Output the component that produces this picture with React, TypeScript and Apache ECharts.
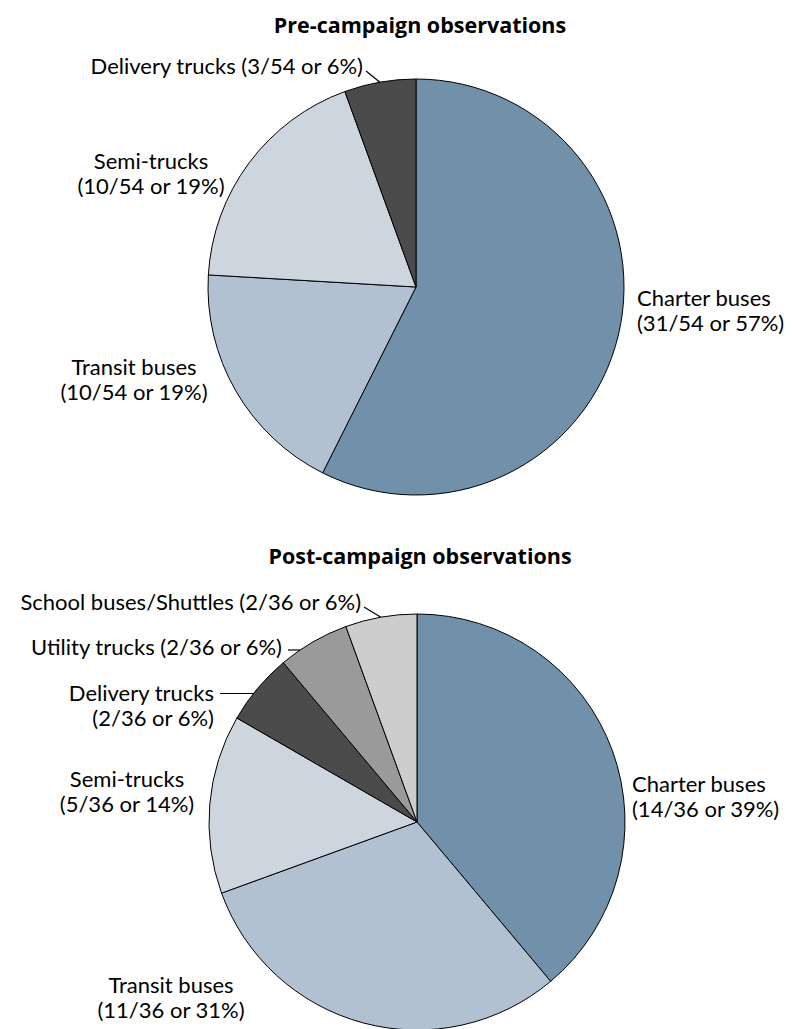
import React, { useEffect, useRef } from "react";
import * as echarts from "echarts";

const preCategories = ["Charter buses", "Transit buses", "Semi-trucks", "Delivery trucks"];
const preValues = [31, 10, 10, 3];
const preTotal = 54;

const postCategories = [
  "Charter buses",
  "Transit buses",
  "Semi-trucks",
  "Delivery trucks",
  "Utility trucks",
  "School buses/Shuttles",
];
const postValues = [14, 11, 5, 2, 2, 2];
const postTotal = 36;

const colorMap: Record<string, string> = {
  "Charter buses": "#7191ab",
  "Transit buses": "#b1c1d1",
  "Semi-trucks": "#cdd6df",
  "Delivery trucks": "#4b4b4b",
  "Utility trucks": "#9a9a9a",
  "School buses/Shuttles": "#cdcdcd",
};

type LP = { x: number; y: number; align: string; two: boolean; leader: "" | "mid" | "flat" };

const preLabelPos: LP[] = [
  { x: 637, y: 310, align: "left", two: true, leader: "" },
  { x: 134, y: 379, align: "center", two: true, leader: "" },
  { x: 151, y: 173, align: "center", two: true, leader: "" },
  { x: 363, y: 65, align: "right", two: false, leader: "mid" },
];
const postLabelPos: LP[] = [
  { x: 632, y: 796, align: "left", two: true, leader: "" },
  { x: 171, y: 997, align: "center", two: true, leader: "" },
  { x: 127, y: 791, align: "center", two: true, leader: "" },
  { x: 214, y: 705, align: "right", two: true, leader: "flat" },
  { x: 282, y: 646, align: "right", two: false, leader: "flat" },
  { x: 361, y: 601, align: "right", two: false, leader: "mid" },
];

const FONT = "Lato, 'Open Sans', sans-serif";
const TITLE_FONT = "'Open Sans', Lato, sans-serif";
const R = 208;
const LINE_H = 25;

function buildData(cats: string[], vals: number[], total: number, pos: LP[]) {
  return cats.map((c, i) => {
    const pct = Math.round((vals[i] / total) * 100);
    const frac = `(${vals[i]}/${total} or ${pct}%)`;
    const text = pos[i].two ? `${c}\n${frac}` : `${c} ${frac}`;
    return {
      name: c,
      value: vals[i],
      itemStyle: { color: colorMap[c] },
      label: { formatter: text, align: pos[i].align as any },
      labelLine: { show: pos[i].leader !== "" },
    };
  });
}

export default function App() {
  const ref = useRef<HTMLDivElement>(null);
  useEffect(() => {
    if (!ref.current) return;
    const chart = echarts.init(ref.current, undefined, { renderer: "svg" });
    const mkSeries = (cats: string[], vals: number[], total: number, center: number[], pos: LP[]) => {
      const sum = vals.reduce((a, b) => a + b, 0);
      const cum: number[] = [];
      let acc = 0;
      vals.forEach((v) => {
        cum.push(acc + v / 2);
        acc += v;
      });
      return {
        type: "pie",
        center,
        radius: R,
        startAngle: 90,
        clockwise: true,
        silent: true,
        data: buildData(cats, vals, total, pos),
        itemStyle: { borderColor: "#000", borderWidth: 1 },
        label: {
          show: true,
          position: "outside",
          color: "#000",
          fontFamily: FONT,
          fontSize: 22,
          lineHeight: LINE_H,
          overflow: "none",
          edgeDistance: 0,
          bleedMargin: 0,
        },
        labelLine: { lineStyle: { color: "#000", width: 1.2 }, length: 10, length2: 10 },
        labelLayout: (p: any) => {
          const lp = pos[p.dataIndex];
          const out: any = { x: lp.x, y: lp.y, align: lp.align, verticalAlign: "middle" };
          if (lp.leader) {
            const ay = lp.two ? lp.y - LINE_H / 2 + 1 : lp.y + 4;
            const ax = lp.x + 3;
            let ex: number, ey: number;
            if (lp.leader === "mid") {
              const ang = (cum[p.dataIndex] / sum) * Math.PI * 2;
              ex = center[0] + R * Math.sin(ang);
              ey = center[1] - R * Math.cos(ang);
              out.labelLinePoints = [[ax, ay + 2], [ax, ay + 2], [ex, ey]];
            } else {
              ey = ay;
              ex = center[0] - Math.sqrt(R * R - (center[1] - ey) * (center[1] - ey));
              out.labelLinePoints = [[ax + 3, ay], [ax + 3, ay], [ex, ey]];
            }
          }
          return out;
        },
        emphasis: { disabled: true },
      };
    };
    chart.setOption({
      animation: false,
      backgroundColor: "#fff",
      title: [
        {
          text: "Pre-campaign observations",
          left: 415,
          top: 8,
          textAlign: "center",
          textStyle: { fontFamily: TITLE_FONT, fontWeight: "bold", fontSize: 21.5, color: "#000" },
        },
        {
          text: "Post-campaign observations",
          left: 415,
          top: 539,
          textAlign: "center",
          textStyle: { fontFamily: TITLE_FONT, fontWeight: "bold", fontSize: 21.5, color: "#000" },
        },
      ],
      series: [
        mkSeries(preCategories, preValues, preTotal, [416, 287], preLabelPos),
        mkSeries(postCategories, postValues, postTotal, [417, 822], postLabelPos),
      ],
    });
    return () => chart.dispose();
  }, []);
  return (
    <div
      ref={ref}
      style={{ position: "absolute", left: 0, top: 0, width: 792, height: 1029 }}
    />
  );
}
